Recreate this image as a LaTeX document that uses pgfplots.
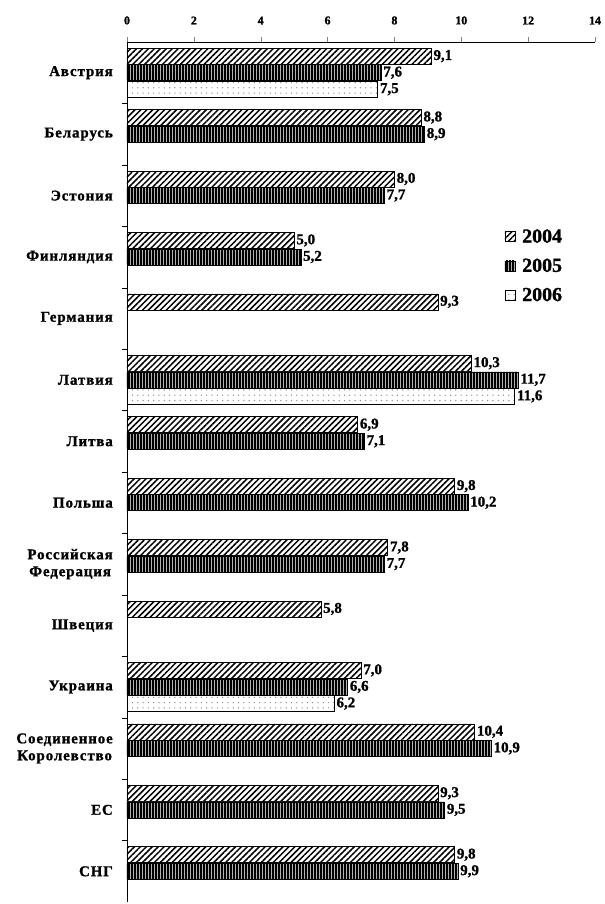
\documentclass[border=0pt]{standalone}
\usepackage{fontspec}
\setmainfont{Liberation Serif}[BoldFeatures={FakeBold=1.2}]
\usepackage{pgfplots}
\pgfplotsset{compat=1.18}
\usetikzlibrary{patterns,patterns.meta}
\begin{document}
\begin{tikzpicture}
\begin{axis}[
  name=ax,
  scale only axis,
  width=468bp, height=860bp,
  xbar,
  y dir=reverse,
  xmin=0, xmax=14,
  ymin=-0.5, ymax=13.5,
  axis x line*=top,
  axis y line*=left,
  xtick={0,2,...,14},
  tick align=outside,
  major tick length=5bp,
  xticklabel style={font=\bfseries\fontsize{12}{13}\selectfont, yshift=9bp},
  /pgf/number format/assume math mode=true,
  ytick={0,...,13},
  yticklabels={Австрия,Беларусь,Эстония,Финляндия,Германия,Латвия,Литва,Польша,{Российская\\Федерация},Швеция,Украина,{Соединенное\\Королевство},ЕС,СНГ},
  y tick style={draw=none},
  yticklabel style={align=center, font=\bfseries\fontsize{15}{17}\selectfont\addfontfeatures{LetterSpace=6}, inner sep=2bp, xshift=-7bp},
  extra y ticks={0.5,1.5,...,12.5},
  extra y tick labels={},
  extra y tick style={y tick style={draw=black}},
  bar width=0.26,
  point meta=x,
  nodes near coords={\pgfmathprintnumber[fixed,fixed zerofill,precision=1,use comma]{\pgfplotspointmeta}},
  nodes near coords style={font=\bfseries\fontsize{15}{15}\selectfont, anchor=west, inner sep=2bp},
  legend style={at={(0.80,0.787)}, anchor=north west, draw=none, fill=none,
    font=\bfseries\fontsize{20}{20}\selectfont, row sep=10.5bp},
  legend cell align=left,
  legend image code/.code={\draw[#1] (0bp,-5bp) rectangle (10bp,5bp); \path (15bp,0bp);},
]
\addplot[draw=black, line width=0.6bp, fill=white, bar shift=-0.27,
  postaction={pattern={Lines[angle=45,distance=4.2bp,line width=1.5bp]}}]
  coordinates {(9.1,0) (8.8,1) (8.0,2) (5.0,3) (9.3,4) (10.3,5) (6.9,6) (9.8,7) (7.8,8) (5.8,9) (7.0,10) (10.4,11) (9.3,12) (9.8,13)};
\addlegendentry{2004}
\addplot[draw=black, line width=0.6bp, fill=gray!60, bar shift=0,
  postaction={pattern={Lines[angle=90,distance=3bp,line width=1.1bp]}}]
  coordinates {(7.6,0) (8.9,1) (7.7,2) (5.2,3) (11.7,5) (7.1,6) (10.2,7) (7.7,8) (6.6,10) (10.9,11) (9.5,12) (9.9,13)};
\addlegendentry{2005}
\addplot[draw=black, line width=0.6bp, fill=white, bar shift=0.27,
  postaction={pattern={Dots[distance=5.3bp,radius=0.7bp]}, pattern color=gray!90}]
  coordinates {(7.5,0) (11.6,5) (6.2,10)};
\addlegendentry{2006}
\end{axis}
\path ([shift={(-127bp,42bp)}]ax.north west) rectangle ([shift={(7bp,-2bp)}]ax.south east);
\end{tikzpicture}
\end{document}
